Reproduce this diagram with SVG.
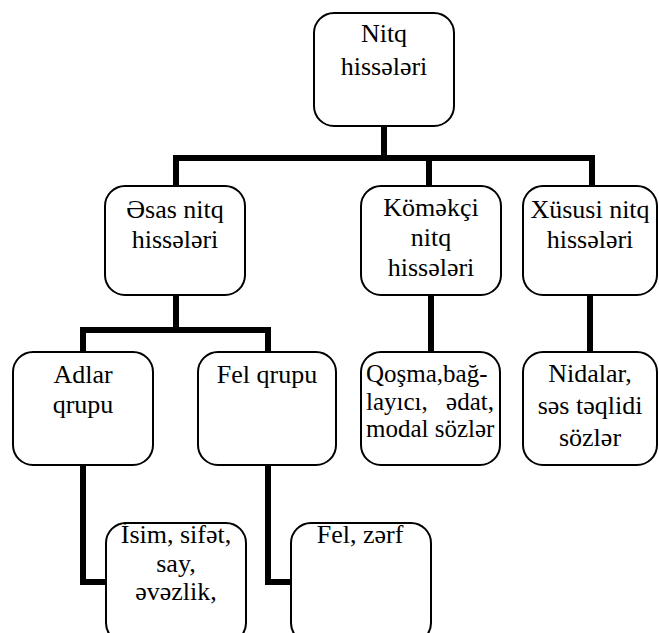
<svg xmlns="http://www.w3.org/2000/svg" width="659" height="633" viewBox="0 0 659 633">
<style>
.box{fill:#fff;stroke:#000;stroke-width:2}
text{font-family:'Liberation Serif','Times New Roman','DejaVu Serif',serif;font-size:26px;fill:#000;text-anchor:middle}
.l{text-anchor:start}
.e{text-anchor:end}
.s{font-size:25px}
.c{fill:none;stroke:#000;stroke-width:6;stroke-linejoin:miter}
</style>
<rect width="659" height="633" fill="#fff"/>
<g id="connectors">
<path class="c" d="M384 127V158M176 190V158H592V190M429 158V190"/>
<path class="c" d="M176 295V330M83 352V330H268V352"/>
<path class="c" d="M431 295V352M590 295V352"/>
<path class="c" d="M83 465V582H106M268 465V582H291"/>
</g>
<g id="n-root"><rect class="box" x="314" y="13" width="140" height="113" rx="20"/><text x="384" y="42">Nitq</text><text x="384" y="75">hissələri</text></g>
<g id="n-esas"><rect class="box" x="105" y="186" width="140" height="109" rx="20"/><text x="175" y="218">Əsas nitq</text><text x="175" y="248">hissələri</text></g>
<g id="n-komekci"><rect class="box" x="361" y="186" width="140" height="109" rx="20"/><text x="431" y="216">Köməkçi</text><text x="431" y="246">nitq</text><text x="431" y="276">hissələri</text></g>
<g id="n-xususi"><rect class="box" x="523" y="186" width="134" height="109" rx="20"/><text x="590" y="218">Xüsusi nitq</text><text x="590" y="248">hissələri</text></g>
<g id="n-adlar"><rect class="box" x="13" y="352" width="140" height="113" rx="20"/><text x="83" y="383">Adlar</text><text x="83" y="413">qrupu</text></g>
<g id="n-fel"><rect class="box" x="198" y="352" width="138" height="113" rx="20"/><text x="267" y="383">Fel qrupu</text></g>
<g id="n-qosma"><rect class="box" x="361" y="352" width="139" height="113" rx="20"/><text class="l s" x="366" y="382">Qoşma,bağ-</text><text class="l s" x="366" y="410">layıcı,</text><text class="e s" x="494" y="410">ədat,</text><text class="l s" x="366" y="437">modal sözlər</text></g>
<g id="n-nidalar"><rect class="box" x="523" y="352" width="134" height="113" rx="20"/><text x="590" y="382">Nidalar,</text><text x="590" y="414">səs təqlidi</text><text x="590" y="446">sözlər</text></g>
<g id="n-isim"><rect class="box" x="106" y="523" width="140" height="120" rx="20"/><text x="176" y="543">İsim, sifət,</text><text x="176" y="572">say,</text><text x="176" y="600">əvəzlik,</text></g>
<g id="n-felzerf"><rect class="box" x="291" y="523" width="140" height="120" rx="20"/><text x="360" y="543">Fel, zərf</text></g>
</svg>
